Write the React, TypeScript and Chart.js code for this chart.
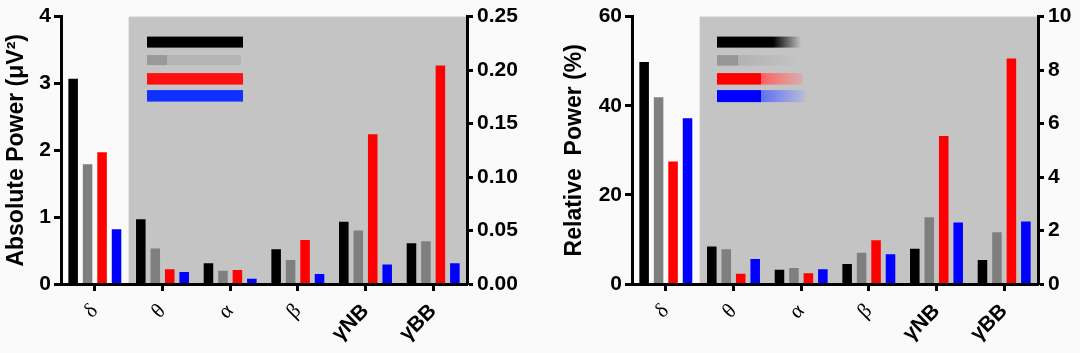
import React, { useEffect, useRef } from 'react';
import { Chart, registerables } from 'chart.js';

Chart.register(...registerables);

// ---------- data ----------
const bandLabels = ['δ', 'θ', 'α', 'β', 'γNB', 'γBB'];
const seriesNames = ['Group 1', 'Group 2', 'Group 3', 'Group 4'];
const seriesColors = ['#000000', '#7f7f7f', '#ff0000', '#0000ff'];

const absGroup1 = [3.07, 0.97, 0.31, 0.52, 0.93, 0.61];
const absGroup2 = [1.79, 0.53, 0.2, 0.36, 0.8, 0.64];
const absGroup3 = [1.97, 0.22, 0.21, 0.66, 2.24, 3.27];
const absGroup4 = [0.82, 0.18, 0.08, 0.15, 0.29, 0.31];

const relGroup1 = [49.8, 8.4, 3.2, 4.5, 7.9, 5.4];
const relGroup2 = [41.9, 7.8, 3.6, 7.0, 15.0, 11.6];
const relGroup3 = [27.5, 2.3, 2.4, 9.8, 33.2, 50.6];
const relGroup4 = [37.2, 5.6, 3.3, 6.7, 13.8, 14.0];

const absLeftTicks = [0, 1, 2, 3, 4];
const absRightTicks = [0, 0.05, 0.1, 0.15, 0.2, 0.25];
const relLeftTicks = [0, 20, 40, 60];
const relRightTicks = [0, 2, 4, 6, 8, 10];

const absTitle = 'Absolute Power (μV²)';
const relTitle = 'Relative  Power (%)';

// ---------- styling ----------
const SANS = "'Liberation Sans', Arial, sans-serif";
const SERIF = "'Liberation Serif', 'Times New Roman', serif";
const BG = '#fafafa';
const SHADE = '#c4c4c4';

const shadePlugin = {
  id: 'shade',
  beforeDraw(chart: any) {
    const { ctx, chartArea } = chart;
    const xs = chart.scales.x;
    const x0 = (xs.getPixelForTick(0) + xs.getPixelForTick(1)) / 2;
    ctx.save();
    ctx.fillStyle = SHADE;
    ctx.fillRect(x0, chartArea.top, chartArea.right - x0, chartArea.bottom - chartArea.top);
    ctx.restore();
  },
};

const swatchPlugin = {
  id: 'swatches',
  afterDatasetsDraw(chart: any, _args: any, opts: any) {
    const { ctx, chartArea } = chart;
    if (!opts || !opts.rows) return;
    ctx.save();
    for (const row of opts.rows) {
      let x = chartArea.left + opts.dx;
      const y = chartArea.top + row.y;
      for (const [c, w] of row.solid) {
        ctx.fillStyle = c;
        ctx.fillRect(x, y, w, row.h);
        x += w;
      }
      if (row.fade) {
        const g = ctx.createLinearGradient(x, 0, x + row.fade.w, 0);
        g.addColorStop(0, row.fade.from);
        g.addColorStop(1, row.fade.to);
        ctx.fillStyle = g;
        ctx.fillRect(x, y, row.fade.w, row.h);
      }
    }
    ctx.restore();
  },
};

function axisCommon() {
  return {
    grid: { drawOnChartArea: false, drawTicks: true, tickLength: 7, tickWidth: 3, tickColor: '#000' },
    border: { display: true, color: '#000', width: 3, z: 1 },
  };
}

function buildConfig(p: any) {
  const datasets = p.series.map((vals: number[], i: number) => ({
    label: seriesNames[i],
    data: vals,
    backgroundColor: seriesColors[i],
    borderWidth: 0,
    barPercentage: 0.66,
    categoryPercentage: 0.855,
    yAxisID: 'y',
  }));
  return {
    type: 'bar',
    data: { labels: bandLabels, datasets },
    plugins: [shadePlugin, swatchPlugin],
    options: {
      responsive: false,
      animation: false,
      devicePixelRatio: 1,
      layout: { padding: { top: 13.5, left: 0, right: 0, bottom: 0 } },
      plugins: {
        legend: { display: false },
        tooltip: { enabled: false },
        swatches: { dx: p.legendDx, rows: p.legendRows },
      },
      scales: {
        x: {
          type: 'category',
          offset: true,
          ...axisCommon(),
          grid: { offset: false, drawOnChartArea: false, drawTicks: true, tickLength: 7, tickWidth: 3, tickColor: '#000' },
          ticks: {
            autoSkip: false,
            maxRotation: 45,
            minRotation: 45,
            padding: 8,
            color: '#000',
            font: (ctx: any) =>
              ctx.index >= 4
                ? { family: SANS, size: 21, weight: 'bold' }
                : { family: SERIF, size: 21, weight: 'normal' },
          },
          afterFit: (s: any) => {
            s.height = 69;
          },
        },
        y: {
          type: 'linear',
          position: 'left',
          min: p.leftTicks[0],
          max: p.leftTicks[p.leftTicks.length - 1],
          ...axisCommon(),
          ticks: {
            color: '#000',
            padding: 3,
            font: { family: SANS, size: 21, weight: 'bold' },
          },
          afterBuildTicks: (s: any) => {
            s.ticks = p.leftTicks.map((v: number) => ({ value: v }));
          },
          title: {
            display: true,
            text: p.title,
            color: '#000',
            font: { family: SANS, size: 23, weight: 'bold' },
            padding: { top: p.titlePad, bottom: 0 },
          },
          afterFit: (s: any) => {
            s.width = p.leftWidth;
          },
        },
        y1: {
          type: 'linear',
          position: 'right',
          display: true,
          min: p.rightTicks[0],
          max: p.rightTicks[p.rightTicks.length - 1],
          ...axisCommon(),
          grid: { drawOnChartArea: false, drawTicks: true, tickLength: 6, tickWidth: 3, tickColor: '#000' },
          ticks: {
            color: '#000',
            padding: 4,
            font: { family: SANS, size: 21, weight: 'bold' },
            callback: (v: any) => p.rightFormat(Number(v)),
          },
          afterBuildTicks: (s: any) => {
            s.ticks = p.rightTicks.map((v: number) => ({ value: v }));
          },
          afterFit: (s: any) => {
            s.width = p.rightWidth;
          },
        },
      },
    },
  };
}

const absLegendRows = [
  { y: 20, h: 11, solid: [['#000000', 96]] },
  { y: 38.5, h: 10, solid: [['#999999', 20], ['#b4b4b4', 74]] },
  { y: 56.5, h: 11.5, solid: [['#ff1010', 96]] },
  { y: 73.5, h: 11.5, solid: [['#1030ff', 96]] },
];
const relLegendRows = [
  { y: 20, h: 11, solid: [['#000000', 56]], fade: { from: '#000000', to: SHADE, w: 28 } },
  { y: 38.5, h: 10.5, solid: [['#969696', 21]], fade: { from: '#b2b2b2', to: SHADE, w: 62 } },
  { y: 56.5, h: 11.5, solid: [['#ff0000', 44]], fade: { from: '#ff6060', to: '#d8b0b0', w: 42 } },
  { y: 73.5, h: 12, solid: [['#0000ff', 44]], fade: { from: '#6070f0', to: '#b8bcd8', w: 44 } },
];

function Panel({ p, left }: { p: any; left: number }) {
  const ref = useRef<HTMLCanvasElement | null>(null);
  useEffect(() => {
    if (!ref.current) return;
    const chart = new Chart(ref.current, buildConfig(p) as any);
    return () => chart.destroy();
  }, []);
  return (
    <canvas
      ref={ref}
      width={540}
      height={353}
      style={{ position: 'absolute', left, top: 0, width: 540, height: 353 }}
    />
  );
}

const absPanel = {
  series: [absGroup1, absGroup2, absGroup3, absGroup4],
  leftTicks: absLeftTicks,
  rightTicks: absRightTicks,
  rightFormat: (v: number) => v.toFixed(2),
  title: absTitle,
  titlePad: 3,
  leftWidth: 61,
  rightWidth: 73,
  legendDx: 86,
  legendRows: absLegendRows,
};

const relPanel = {
  series: [relGroup1, relGroup2, relGroup3, relGroup4],
  leftTicks: relLeftTicks,
  rightTicks: relRightTicks,
  rightFormat: (v: number) => String(Math.round(v)),
  title: relTitle,
  titlePad: 21,
  leftWidth: 92,
  rightWidth: 42,
  legendDx: 85,
  legendRows: relLegendRows,
};

export default function App() {
  return (
    <div
      style={{
        position: 'absolute',
        left: 0,
        top: 0,
        width: 1080,
        height: 353,
        background: BG,
        overflow: 'hidden',
      }}
    >
      <Panel p={absPanel} left={0} />
      <Panel p={relPanel} left={540} />
    </div>
  );
}
